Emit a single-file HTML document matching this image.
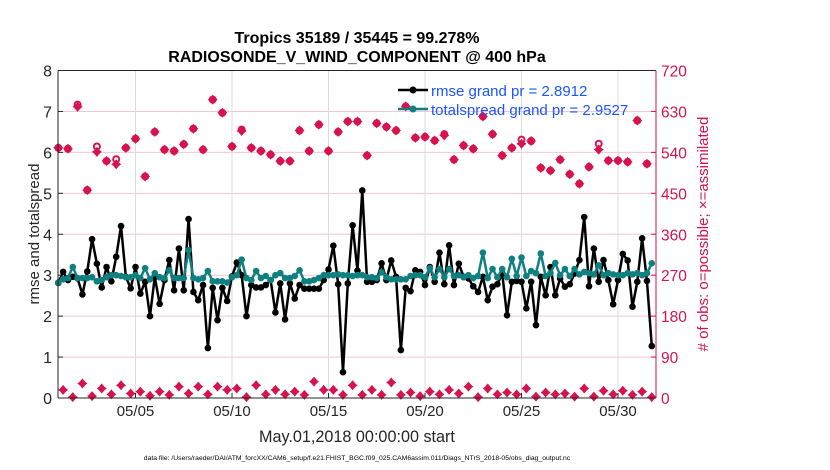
<!DOCTYPE html>
<html><head><meta charset="utf-8"><style>
body{margin:0;background:#fff;width:830px;height:470px;overflow:hidden}
svg{display:block;font-family:"Liberation Sans",Arial,sans-serif}
</style></head><body>
<svg id="chart" width="830" height="470" xmlns="http://www.w3.org/2000/svg">
<rect x="0" y="0" width="830" height="470" fill="#fff"/>
<g id="grid"></g>
<g id="obs"></g>
<g id="lines"></g>
<g id="axes"></g>
<text x="357" y="43" text-anchor="middle" font-size="16" font-weight="bold">Tropics 35189 / 35445 = 99.278%</text>
<text x="357" y="62" text-anchor="middle" font-size="16" font-weight="bold">RADIOSONDE_V_WIND_COMPONENT @ 400 hPa</text>
<text x="357" y="442" text-anchor="middle" font-size="16.2" fill="#262626">May.01,2018 00:00:00 start</text>
<text x="357" y="460" text-anchor="middle" font-size="6.8" fill="#000">data file: /Users/raeder/DAI/ATM_forcXX/CAM6_setup/f.e21.FHIST_BGC.f09_025.CAM6assim.011/Diags_NTrS_2018-05/obs_diag_output.nc</text>
<text transform="translate(39,234) rotate(-90)" text-anchor="middle" font-size="15" fill="#262626">rmse and totalspread</text>
<text transform="translate(708,234) rotate(-90)" text-anchor="middle" font-size="15" fill="#d6124f"># of obs: o=possible; ×=assimilated</text>
<g>
<line x1="398" y1="90" x2="428" y2="90" stroke="#000" stroke-width="2.5"/><circle cx="413" cy="90" r="3.5" fill="#000"/>
<text x="431" y="96" font-size="15" fill="#1a56ff">rmse grand pr = 2.8912</text>
<line x1="398" y1="109" x2="428" y2="109" stroke="#0f8080" stroke-width="2.5"/><circle cx="413" cy="109" r="3.5" fill="#0f8080"/>
<text x="431" y="115" font-size="15" fill="#1a56ff">totalspread grand pr = 2.9527</text>
</g>
</svg>
<script>
const rmse=[2.81,3.08,2.88,2.96,2.92,2.53,3.09,3.88,3.28,2.70,3.2,2.85,3.45,4.2,2.96,2.68,3.2,2.55,2.84,2.0,2.96,2.30,2.88,3.37,2.63,3.65,2.63,4.37,2.59,2.39,2.76,1.22,2.69,1.90,2.69,2.37,2.97,3.31,3.0,2.0,2.76,2.70,2.70,2.76,2.88,2.09,2.80,1.92,2.80,2.43,2.76,2.67,2.67,2.67,2.67,2.88,3.14,3.72,2.78,0.63,2.80,4.22,3.11,5.07,
2.84,2.84,2.88,3.29,2.88,3.36,2.96,1.17,2.69,2.61,3.12,3.08,2.76,3.2,2.84,3.55,2.78,3.73,2.76,3.28,2.96,2.92,2.73,2.59,2.96,2.39,2.72,2.78,3.04,2.02,2.84,2.86,2.84,2.19,2.84,1.78,2.96,2.51,3.2,2.51,2.92,2.72,2.78,3.04,3.37,4.42,2.73,3.65,2.84,3.37,2.88,2.29,2.88,3.52,3.36,2.23,2.84,3.9,2.86,1.27];
const spread=[2.82,2.9,2.93,3.2,2.93,2.93,2.93,2.95,2.85,2.88,2.95,3.0,3.0,2.98,2.95,2.95,3.0,2.93,3.17,2.9,3.05,2.95,2.93,3.12,2.93,2.93,2.93,3.61,2.93,2.9,2.93,3.1,2.85,2.85,2.85,2.82,2.95,3.0,3.38,2.93,2.88,3.1,2.93,2.98,2.88,3.0,3.05,2.93,2.93,2.98,3.12,2.85,2.85,2.88,2.93,3.0,3.0,3.0,3.02,3.0,3.0,2.98,3.0,3.0,
2.95,2.95,2.93,3.07,2.95,2.9,2.9,2.9,2.9,2.98,3.0,3.0,2.95,3.17,2.95,3.15,2.95,3.15,2.98,3.0,2.95,3.0,2.93,2.98,3.55,2.93,3.15,2.95,3.15,2.95,3.4,2.98,3.43,2.98,3.1,3.05,3.53,2.98,3.05,3.3,3.0,3.15,2.98,3.15,3.02,3.08,3.05,3.02,3.24,3.0,3.05,3.02,3.0,3.0,3.05,3.02,3.05,3.0,3.05,3.29];
const usedEven=[550,548,640,457,541,521,514,550,570,487,585,546,543,558,592,546,656,627,553,587,550,543,535,521,521,588,543,601,543,585,608,608,533,604,596,588,641,572,574,566,577,524,555,548,619,580,533,550,559,565,506,500,524,492,471,508,546,522,522,519,610,515];
const possEven=[550,548,645,457,553,521,525,550,570,487,585,546,543,558,592,546,656,627,553,590,550,543,535,521,521,588,543,601,543,585,608,608,533,604,596,588,641,572,574,566,580,524,555,548,619,580,533,550,568,565,506,500,524,492,471,508,559,522,522,519,610,515];
const usedOdd=[18,2,32,4,21,8,28,10,14,5,14,7,25,10,25,8,25,18,21,2,28,8,18,8,14,7,36,18,18,7,28,7,18,7,34,7,12,4,14,8,18,10,25,2,21,8,12,8,21,3,12,8,10,3,21,3,16,8,16,7,14,2];
const yTicks=[0,1,2,3,4,5,6,7,8];
const y2Ticks=[0,90,180,270,360,450,540,630,720];
const dayTicks=[5,10,15,20,25,30];
const dayLabels=["05/05","05/10","05/15","05/20","05/25","05/30"];

const NS="http://www.w3.org/2000/svg";
const L=58,R=656,T=70.5,B=398;
const xs=t=>58.3+t*19.3;
const xi=i=>xs(i*0.25);
const yl=v=>B-(v/8)*(B-T);
const yr=v=>B-(v/720)*(B-T);
function mk(tag,attrs,parent){const e=document.createElementNS(NS,tag);for(const k in attrs)e.setAttribute(k,attrs[k]);parent.appendChild(e);return e;}
const grid=document.getElementById('grid'),axes=document.getElementById('axes'),obs=document.getElementById('obs'),lines=document.getElementById('lines');

yTicks.forEach(v=>{
 const g=mk('line',{x1:L,x2:R,y1:yl(v),y2:yl(v),stroke:'#f2c6d4','stroke-width':1},grid);
 
 
 const t=mk('text',{x:L-6,y:yl(v)+6,'text-anchor':'end','font-size':16,fill:'#262626'},axes);t.textContent=v;
 
 
 mk('line',{x1:L,x2:L+5,y1:yl(v),y2:yl(v),stroke:'#262626'},axes);
});
y2Ticks.forEach(v=>{
 const t=mk('text',{x:R+5,y:yr(v)+6,'font-size':15.5,fill:'#d6124f'},axes);t.textContent=v;
 
 
 mk('line',{x1:R-5,x2:R,y1:yr(v),y2:yr(v),stroke:'#d6124f'},axes);
});
dayTicks.forEach((d,k)=>{
 const x=xs(d-1);
 const g=mk('line',{x1:x,x2:x,y1:T,y2:B,stroke:'#dcdcdc','stroke-width':1},grid);
 
 
 mk('line',{x1:x,x2:x,y1:B-5,y2:B,stroke:'#262626'},axes);
 const t=mk('text',{x:x,y:B+18,'text-anchor':'middle','font-size':15,fill:'#262626'},axes);t.textContent=dayLabels[k];
 
 
});
const box=mk('path',{d:`M${L},${T}H${R}M${L},${B}H${R}M${L},${T}V${B}`,stroke:'#262626','stroke-width':1,fill:'none'},axes);


const rax=mk('line',{x1:R,x2:R,y1:T,y2:B,stroke:'#d6124f','stroke-width':1},axes);



function star(x,y,parent){
 const p=mk('path',{d:`M${x},${y-5}L${x+3},${y-1.5}L${x+5},${y}L${x+3},${y+1.5}L${x},${y+5}L${x-3},${y+1.5}L${x-5},${y}L${x-3},${y-1.5}Z`,fill:'#d6124f'},parent);
 
 
}
function ring(x,y,parent){
 const c=mk('circle',{cx:x,cy:y,r:3,fill:'#fff',stroke:'#d6124f','stroke-width':2},parent);
 
 
}
usedEven.forEach((v,k)=>{const x=xi(2*k);ring(x,yr(possEven[k]),obs);star(x,yr(v),obs);});
usedOdd.forEach((v,k)=>{const x=xi(2*k+1);star(x,yr(v),obs);});

function series(vals,color,name){
 const pl=mk('polyline',{points:vals.map((v,i)=>xi(i)+','+yl(v)).join(' '),fill:'none',stroke:color,'stroke-width':2.5,'stroke-linejoin':'round'},lines);
 
 
 vals.forEach((v,i)=>{
  const c=mk('circle',{cx:xi(i),cy:yl(v),r:3.3,fill:color},lines);
  
  
 });
}
series(rmse,'#000','rmse');
series(spread,'#0f8080','totalspread');
</script>
</body></html>
